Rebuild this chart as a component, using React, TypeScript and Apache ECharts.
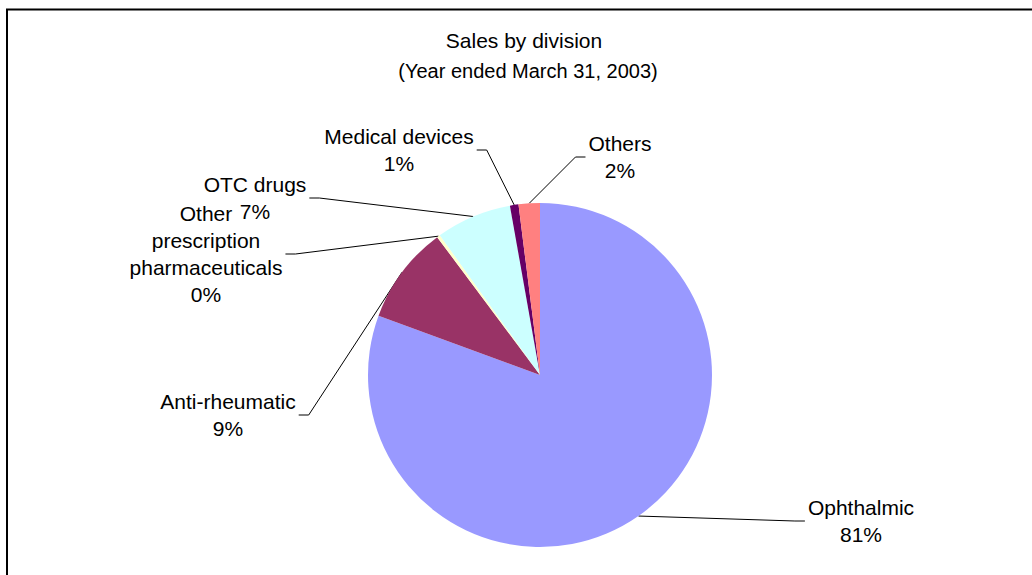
import React, { useEffect, useRef } from 'react';
import * as echarts from 'echarts';

// ---- data ----
const categories = [
  'Ophthalmic',
  'Anti-rheumatic',
  'Other prescription pharmaceuticals',
  'OTC drugs',
  'Medical devices',
  'Others',
];
const labelTexts = [
  'Ophthalmic',
  'Anti-rheumatic',
  'Other\nprescription\npharmaceuticals',
  'OTC drugs',
  'Medical devices',
  'Others',
];
const salesShare = [80.6, 9.2, 0.3, 7.1, 0.8, 2.0];
const sliceColors = ['#9999FF', '#993366', '#FFFFCC', '#CCFFFF', '#660066', '#FF8080'];
const titleText = 'Sales by division';
const subtitleText = '(Year ended March 31, 2003)';

// ---- layout (label block centres, px) ----
const LABEL_SPOTS: number[][] = [
  [861, 521],
  [228, 415],
  [206, 254],
  [255, 198],
  [399, 150],
  [620, 157],
];

const FONT = "'Liberation Sans', Arial, sans-serif";

export default function App() {
  const ref = useRef<HTMLDivElement>(null);

  useEffect(() => {
    if (!ref.current) return;
    const chart = echarts.init(ref.current, null, { renderer: 'svg' });
    chart.setOption({
      animation: false,
      backgroundColor: '#ffffff',
      title: [
        {
          text: titleText,
          left: 524,
          top: 28,
          padding: 0,
          textAlign: 'center',
          textStyle: {
            fontFamily: FONT,
            fontSize: 21,
            fontWeight: 'normal',
            color: '#000',
            lineHeight: 24,
          },
        },
        {
          text: subtitleText,
          left: 528,
          top: 59,
          padding: 0,
          textAlign: 'center',
          textStyle: {
            fontFamily: FONT,
            fontSize: 20,
            fontWeight: 'normal',
            color: '#000',
            lineHeight: 24,
          },
        },
      ],
      graphic: [
        {
          type: 'rect',
          shape: { x: 7, y: 9.5, width: 1200, height: 800 },
          style: { fill: 'none', stroke: '#000', lineWidth: 2 },
          silent: true,
          z: 100,
        },
      ],
      series: [
        {
          type: 'pie',
          center: [540, 375],
          radius: [0, 172],
          startAngle: 90,
          clockwise: true,
          avoidLabelOverlap: false,
          percentPrecision: 0,
          minAngle: 0,
          itemStyle: { borderWidth: 0 },
          emphasis: { disabled: true },
          label: {
            show: true,
            position: 'outside',
            fontFamily: FONT,
            fontSize: 21,
            lineHeight: 27,
            color: '#000',
            align: 'center',
            padding: [0, 3, 0, 3],
            formatter: (p: any) => labelTexts[p.dataIndex] + '\n' + p.percent + '%',
          },
          labelLine: {
            show: true,
            length: 10,
            length2: 10,
            smooth: false,
            lineStyle: { color: '#000', width: 1 },
          },
          labelLayout: (params: any) => {
            const s = LABEL_SPOTS[params.dataIndex];
            return { x: s[0], y: s[1], align: 'center', verticalAlign: 'middle' };
          },
          data: categories.map((name, i) => ({
            name,
            value: salesShare[i],
            itemStyle: { color: sliceColors[i] },
          })),
        },
      ],
    });
    return () => chart.dispose();
  }, []);

  return (
    <div
      ref={ref}
      style={{ position: 'fixed', left: 0, top: 0, width: 1032, height: 575 }}
    />
  );
}
